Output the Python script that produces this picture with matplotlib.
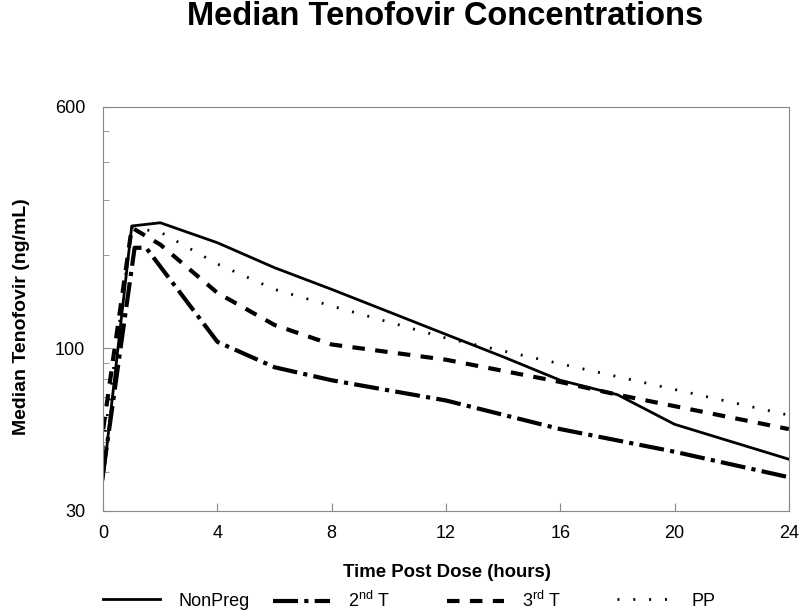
import matplotlib
matplotlib.use("Agg")
import matplotlib.pyplot as plt
from matplotlib.ticker import FixedLocator, FixedFormatter, NullFormatter, LogLocator

plt.rcParams['font.family'] = ['Liberation Sans', 'DejaVu Sans']
plt.rcParams['mathtext.fontset'] = 'custom'
plt.rcParams['mathtext.rm'] = 'Liberation Sans'
plt.rcParams['mathtext.it'] = 'Liberation Sans'

# data (hours, ng/mL)
t_nonpreg = [0, 1, 2, 4, 6, 8, 12, 14, 16, 18, 20, 24]
c_nonpreg = [38, 248, 254, 219, 182, 155, 111, 94, 79, 71, 57, 44]

t_2nd = [0, 1.1, 1.5, 4, 6, 8, 12, 16, 20, 24]
c_2nd = [40, 211, 211, 105, 87, 79, 68, 55, 46.5, 38.5]

t_3rd = [0, 1, 2, 4, 6, 8, 12, 16, 18, 24]
c_3rd = [55, 245, 216, 151, 119, 103, 92, 78, 71, 55]

t_pp = [0, 1, 2, 4, 6, 8, 12, 24]
c_pp = [48, 245, 237, 187, 155, 137, 108, 61]

labels = ["NonPreg", r"2$^{\mathrm{nd}}$ T", r"3$^{\mathrm{rd}}$ T", "PP"]

fig = plt.figure(figsize=(8, 6.14), dpi=100)
ax = fig.add_axes([0.129, 0.168, 0.857, 0.658])

lines = []
lines += ax.plot(t_nonpreg, c_nonpreg, color="black", lw=2, ls="-")
lines += ax.plot(t_2nd, c_2nd, color="black", lw=3, ls=(0, (6, 1.5, 1, 1.5)))
lines += ax.plot(t_3rd, c_3rd, color="black", lw=3, ls=(0, (3, 2.5)))
lines += ax.plot(t_pp, c_pp, color="black", lw=2, ls=(0, (0.7, 5)))

ax.set_yscale("log")
ax.set_ylim(30, 600)
ax.set_xlim(0, 24)
ax.yaxis.set_major_locator(FixedLocator([30, 100, 600]))
ax.yaxis.set_major_formatter(FixedFormatter(["30", "100", "600"]))
ax.yaxis.set_minor_locator(LogLocator(base=10, subs=range(2, 10)))
ax.yaxis.set_minor_formatter(NullFormatter())
ax.set_xticks([0, 4, 8, 12, 16, 20, 24])

for s in ax.spines.values():
    s.set_color("#888888")
ax.tick_params(axis="both", which="both", direction="in", colors="#888888",
               labelcolor="black", labelsize=13)
ax.tick_params(axis="y", which="major", length=6, pad=13)
ax.tick_params(axis="y", which="minor", length=4)
ax.tick_params(axis="x", which="major", length=6, pad=10)

fig.text(0.556, 0.959, "Median Tenofovir Concentrations", ha="center", va="baseline",
         fontsize=23.5, fontweight="bold")
fig.text(0.559, 0.067, "Time Post Dose (hours)", ha="center", va="center",
         fontsize=13.4, fontweight="bold")
fig.text(0.027, 0.484, "Median Tenofovir (ng/mL)", ha="center", va="center",
         rotation=90, fontsize=14, fontweight="bold")

# legend entries sit in equal-width slots, like the original
slot_x = [0.129, 0.341, 0.559, 0.771]
for ln, lab, x0 in zip(lines, labels, slot_x):
    fig.legend([ln], [lab], loc="center left", bbox_to_anchor=(x0, 0.021),
               frameon=False, fontsize=13, handlelength=3.15, handletextpad=1.0,
               borderpad=0, borderaxespad=0)

fig.savefig("out.png", dpi=100)
